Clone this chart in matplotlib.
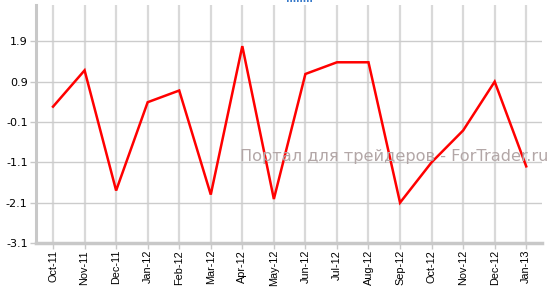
import matplotlib
matplotlib.use("Agg")
import matplotlib.pyplot as plt

months = ["Oct-11", "Nov-11", "Dec-11", "Jan-12", "Feb-12", "Mar-12", "Apr-12", "May-12",
          "Jun-12", "Jul-12", "Aug-12", "Sep-12", "Oct-12", "Nov-12", "Dec-12", "Jan-13"]
values = [0.28, 1.18, -1.8, 0.39, 0.68, -1.9, 1.78, -2.01,
          1.09, 1.38, 1.38, -2.1, -1.1, -0.31, 0.9, -1.2]
yticks = [-3.1, -2.1, -1.1, -0.1, 0.9, 1.9]

W, H = 556, 288
fig = plt.figure(figsize=(W / 100, H / 100), dpi=100)
ax = fig.add_axes([36 / W, 1 - 243 / H, (542 - 36) / W, (243 - 5) / H])

x = list(range(len(months)))
ax.set_xlim(-0.54, len(months) - 1 + 0.5)
ax.set_ylim(-3.1, 2.8)

for xi in x:
    ax.axvline(xi, color="#d9d9d9", lw=1.6, zorder=1)
for yt in yticks:
    ax.axhline(yt, color="#cccccc", lw=1.0, zorder=1)

fig.text(548 / W, 1 - 161 / H, "Портал для трейдеров - ForTrader.ru",
         ha="right", va="baseline", fontsize=11.6, color="#b3a7a7", family="DejaVu Sans", zorder=2)

ax.plot(x, values, color="#ff0000", lw=1.8, zorder=3, solid_joinstyle="miter")

ax.set_xticks(x)
ax.set_xticklabels(months, rotation=90, fontsize=7.8, family="Liberation Sans")
ax.set_yticks(yticks)
ax.set_yticklabels([f"{v:.1f}" for v in yticks], fontsize=8, family="DejaVu Sans")

for s in ["top", "right"]:
    ax.spines[s].set_visible(False)
ax.spines["left"].set_color("#c8c8c8")
ax.spines["left"].set_linewidth(2.2)
ax.spines["bottom"].set_color("#c8c8c8")
ax.spines["bottom"].set_linewidth(2.5)
ax.tick_params(axis="x", length=4, color="#c8c8c8", width=1, pad=1)
ax.tick_params(axis="y", length=4, color="#c8c8c8", width=1, pad=2)

fig.lines.append(plt.Line2D([287 / W, 313 / W], [1 - 0.5 / H, 1 - 0.5 / H], transform=fig.transFigure,
                            color="#1060c0", lw=1.2, linestyle=(0, (1, 1))))

fig.savefig("out.png", dpi=100)
